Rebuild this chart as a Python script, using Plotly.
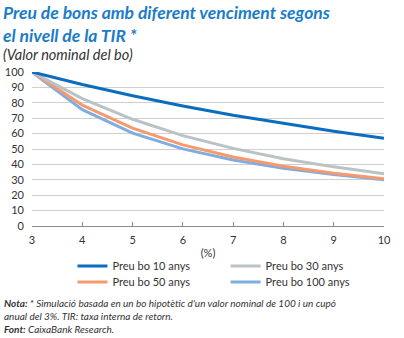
import plotly.graph_objects as go

# Yield to maturity (%)
tir = [3, 4, 5, 6, 7, 8, 9, 10]

# Bond price per maturity (nominal value = 100)
preu_10 = [100, 91.9, 84.6, 77.9, 71.9, 66.5, 61.5, 57.0]
preu_30 = [100, 82.7, 69.3, 58.7, 50.4, 43.7, 38.4, 34.0]
preu_50 = [100, 78.5, 63.5, 52.7, 44.8, 38.8, 34.2, 30.6]
preu_100 = [100, 75.5, 60.3, 50.1, 42.9, 37.5, 33.4, 30.0]

FONT = "Lato"
TXT = "#333333"

# name, values, colour, legend slot (x, y in paper units)
series = [
    ("Preu bo 10 anys", preu_10, "#0b6dbd", "legend", 0.115, -0.26),
    ("Preu bo 30 anys", preu_30, "#b9c2c5", "legend2", 0.55, -0.26),
    ("Preu bo 50 anys", preu_50, "#f59a6e", "legend3", 0.115, -0.364),
    ("Preu bo 100 anys", preu_100, "#80ade0", "legend4", 0.55, -0.364),
]

fig = go.Figure()
# draw in reverse so the 10-year line sits on top
for name, vals, col, lg, _, _ in reversed(series):
    fig.add_trace(go.Scatter(
        x=tir, y=vals, mode="lines", name=name, legend=lg,
        line=dict(color=col, width=3),
    ))

legends = {}
for _, _, _, lg, lx, ly in series:
    legends[lg] = dict(
        x=lx, y=ly, orientation="v", xanchor="left", yanchor="middle",
        font=dict(family=FONT, size=11, color=TXT),
        bgcolor="rgba(0,0,0,0)", itemwidth=30,
    )

fig.update_layout(
    width=404, height=338,
    margin=dict(l=32, r=20, t=72, b=112, autoexpand=False),
    plot_bgcolor="white", paper_bgcolor="white",
    font=dict(family=FONT, size=11, color=TXT),
    showlegend=True,
    **legends,
    xaxis=dict(
        range=[3, 10], tickmode="linear", tick0=3, dtick=1,
        showgrid=False, zeroline=False,
        showline=True, linecolor="#8a8a8a", linewidth=1,
        ticks="inside", ticklen=4, tickcolor="#8a8a8a",
        ticklabelstandoff=4, automargin=False,
        tickfont=dict(family=FONT, size=11, color=TXT),
        title=dict(text="(%)", font=dict(family=FONT, size=11, color=TXT), standoff=4),
    ),
    yaxis=dict(
        range=[0, 100], tickmode="linear", tick0=0, dtick=10,
        showgrid=True, gridcolor="#cfcfcf", gridwidth=1,
        zeroline=False, showline=False, ticks="",
        ticklabelstandoff=7, automargin=False,
        tickfont=dict(family=FONT, size=11, color=TXT),
    ),
)

title_col = "#1b7cc8"


def top_text(text, top_px, size, color):
    # left-aligned text block whose top sits on a pixel row above the plot
    fig.add_annotation(
        xref="paper", yref="paper", x=0, xshift=-30, y=1.0, yshift=72 - top_px,
        xanchor="left", yanchor="top", align="left",
        showarrow=False, borderpad=0,
        text=text, font=dict(family=FONT, size=size, color=color),
    )


top_text("<b><i>Preu de bons amb diferent venciment segons<br>el nivell de la TIR *</i></b>",
         1, 17.5, title_col)
top_text("<i>(Valor nominal del bo)</i>", 45, 14.5, TXT)

fig.add_annotation(
    xref="paper", yref="paper", x=0, xshift=-30, y=0.0, yshift=-69,
    xanchor="left", yanchor="top", align="left", showarrow=False,
    text=("<b><i>Nota:</i></b><i> * Simulació basada en un bo hipotètic d'un valor nominal de 100 i un cupó<br>"
          "anual del 3%. TIR: taxa interna de retorn.</i><br>"
          "<b><i>Font:</i></b><i> CaixaBank Research.</i>"),
    font=dict(family=FONT, size=10, color=TXT),
)

fig.write_html("out.html")
